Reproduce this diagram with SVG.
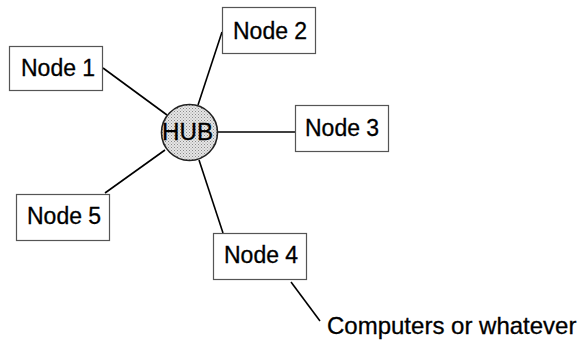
<svg xmlns="http://www.w3.org/2000/svg" width="580" height="340" viewBox="0 0 580 340">
<defs>
<pattern id="dots" width="3" height="3" patternUnits="userSpaceOnUse">
<rect width="3" height="3" fill="#e6e6e6"/>
<rect x="0" y="0" width="1" height="1" fill="#8a8a8a"/>
<rect x="1.5" y="1.5" width="1" height="1" fill="#a0a0a0"/>
</pattern>
</defs>
<style>
.box{fill:#fff;stroke:#555;stroke-width:1.2}
.lbl{font-family:"Liberation Sans",Arial,sans-serif;font-size:23px;fill:#000;stroke:#000;stroke-width:0.3}
.ln{stroke:#000;stroke-width:1.6;fill:none}
</style>
<rect width="580" height="340" fill="#fff"/>
<g id="connectors">
<line class="ln" x1="103" y1="68" x2="167" y2="115"/>
<line class="ln" x1="222" y1="32" x2="198" y2="105"/>
<line class="ln" x1="218" y1="132" x2="295" y2="132"/>
<line class="ln" x1="105" y1="193" x2="165" y2="150"/>
<line class="ln" x1="199" y1="160" x2="223" y2="233"/>
<line class="ln" x1="291" y1="282" x2="320" y2="321"/>
</g>
<g id="hub">
<circle cx="189.5" cy="132.5" r="28" fill="url(#dots)" stroke="#222" stroke-width="1.6"/>
<text class="lbl" x="162" y="140" style="font-size:23px" textLength="51" lengthAdjust="spacingAndGlyphs">HUB</text>
</g>
<g id="node1">
<rect class="box" x="9.5" y="46.5" width="93" height="44"/>
<text class="lbl" x="21" y="76">Node 1</text>
</g>
<g id="node2">
<rect class="box" x="222.5" y="7.5" width="93" height="46"/>
<text class="lbl" x="233" y="39">Node 2</text>
</g>
<g id="node3">
<rect class="box" x="295.5" y="105.5" width="93" height="46"/>
<text class="lbl" x="305" y="136">Node 3</text>
</g>
<g id="node5">
<rect class="box" x="16.5" y="194.5" width="93" height="46"/>
<text class="lbl" x="27" y="224">Node 5</text>
</g>
<g id="node4">
<rect class="box" x="213.5" y="233.5" width="93" height="46"/>
<text class="lbl" x="224" y="263">Node 4</text>
</g>
<g id="note">
<text class="lbl" x="327" y="334" style="font-size:24px">Computers or whatever</text>
</g>
</svg>
